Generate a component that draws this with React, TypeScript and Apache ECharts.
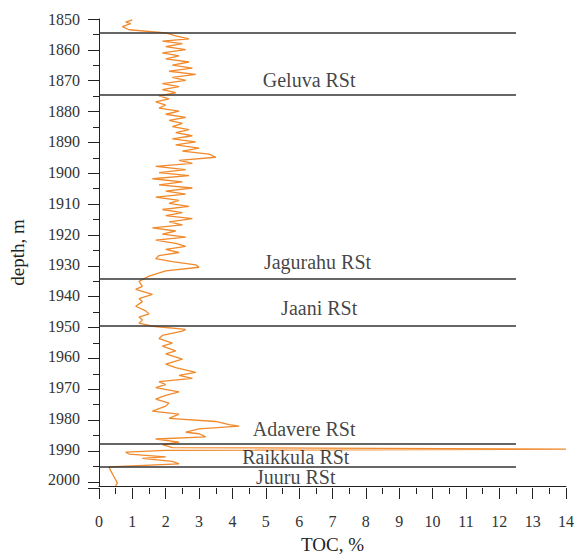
import React, { useEffect, useRef } from "react";
import * as echarts from "echarts";

const depths: number[] = [
  1850.3, 1851.0, 1851.5, 1852.5, 1853.5, 1854.5, 1855.5, 1856.5, 1857.2, 1858.0,
  1859.0, 1860.0, 1861.0, 1862.0, 1863.0, 1864.0, 1865.0, 1866.0, 1867.0, 1868.0,
  1869.0, 1870.0, 1871.0, 1872.0, 1873.0, 1874.0, 1875.0, 1876.0, 1877.0, 1878.0,
  1879.0, 1880.0, 1881.0, 1882.0, 1883.0, 1884.0, 1885.0, 1886.0, 1887.0, 1888.0,
  1889.0, 1890.0, 1891.0, 1892.0, 1893.0, 1894.0, 1895.0, 1896.0, 1897.0, 1898.0,
  1899.0, 1900.0, 1901.0, 1902.0, 1903.0, 1904.0, 1905.0, 1906.0, 1907.0, 1908.0,
  1909.0, 1910.0, 1911.0, 1912.0, 1913.0, 1914.0, 1915.0, 1916.0, 1917.0, 1918.0,
  1919.0, 1920.0, 1921.0, 1922.0, 1923.0, 1924.0, 1925.0, 1926.0, 1927.0, 1928.0,
  1929.0, 1930.0, 1930.8, 1932.0, 1933.7, 1935.4, 1937.0, 1938.0, 1939.6, 1941.0,
  1942.0, 1943.5, 1945.0, 1946.0, 1947.0, 1948.0, 1949.0, 1950.0, 1951.0, 1951.6,
  1953.0, 1954.0, 1955.5, 1956.5, 1958.0, 1959.0, 1960.7, 1962.3, 1963.5, 1965.0,
  1966.0, 1967.0, 1968.0, 1969.0, 1970.0, 1971.4, 1972.5, 1973.7, 1975.0, 1976.0,
  1977.6, 1978.6, 1980.0, 1981.0, 1982.0, 1982.5, 1983.4, 1984.5, 1985.0, 1986.0,
  1986.7, 1987.7, 1988.5, 1989.5, 1990.0, 1990.4, 1991.0, 1991.6, 1992.5, 1993.0,
  1994.0, 1994.8, 1995.8, 1997.0, 1999.0, 2001.0, 2002.0,
];
const toc: number[] = [
  1.0, 0.8, 0.95, 0.7, 0.9, 2.0, 2.3, 2.7, 1.9, 2.5,
  2.0, 2.6, 1.9, 2.4, 2.0, 2.7, 2.2, 2.8, 2.1, 2.9,
  2.2, 2.6, 1.9, 2.4, 1.9, 2.3, 1.8, 2.1, 1.7, 2.0,
  1.8, 2.4, 2.0, 2.6, 2.1, 2.5, 2.2, 2.7, 2.3, 2.8,
  2.2, 2.9, 2.3, 3.0, 2.5, 3.3, 3.5, 2.4, 2.8, 1.7,
  2.6, 1.8, 2.7, 1.6, 2.5, 1.8, 2.8, 2.0, 2.6, 1.7,
  2.4, 2.1, 2.7, 1.9, 2.5, 2.0, 2.8, 2.1, 2.5, 1.6,
  2.3, 1.9, 2.6, 1.7, 2.3, 2.6, 2.0, 2.4, 1.8, 1.7,
  2.2, 2.9, 3.0, 2.0, 1.5, 1.2, 1.3, 1.1, 1.6, 1.2,
  1.3, 1.1, 1.4, 1.5, 1.2, 1.3, 1.2, 1.6, 2.6, 2.5,
  1.9, 1.8, 2.2, 1.9, 2.3, 2.0, 2.5, 2.0, 2.3, 2.9,
  2.4, 2.8, 1.8, 2.0, 1.7, 2.4, 2.0, 1.7, 2.1, 2.0,
  1.6, 2.4, 2.1, 3.5, 3.9, 4.2, 3.0, 2.6, 3.0, 3.2,
  1.7, 2.4, 1.9, 2.2, 14.0, 2.0, 0.8, 0.9, 2.0, 1.3,
  2.2, 2.4, 0.3, 0.35, 0.45, 0.55, 0.5,
];

// Regional stage boundaries (depth, m)
const boundaries: number[] = [1854.5, 1874.7, 1934.7, 1950.0, 1988.3, 1995.8];
const boundaryEndToc = 12.5;

// Regional stage names with label anchor (TOC, depth)
const stageNames: string[] = ["Geluva RSt", "Jagurahu RSt", "Jaani RSt", "Adavere RSt", "Raikkula RSt", "Juuru RSt"];
const stageLabelX: number[] = [6.3, 6.55, 6.6, 6.15, 5.9, 5.9];
const stageLabelDepth: number[] = [1869.8, 1929.2, 1944.2, 1983.4, 1992.5, 1999.0];

const SERIF = "Liberation Serif";
const AXIS = "#222";
const TICK = "#222";

const X_MIN = 0, X_MAX = 14;
const Y_MIN = 1850, Y_MAX = 2002;

export default function App() {
  const ref = useRef<HTMLDivElement>(null);
  useEffect(() => {
    if (!ref.current) return;
    const chart = echarts.init(ref.current, undefined, { renderer: "svg" });
    const lineData = depths.map((d, i) => [toc[i], d]);

    // Tick marks are drawn as split lines of thin helper grids outside the plot.
    const tickAxisX = (gridIndex: number, interval: number) => ({
      gridIndex, type: "value", min: X_MIN, max: X_MAX, interval,
      axisLine: { show: false }, axisTick: { show: false }, axisLabel: { show: false },
      splitLine: { show: true, lineStyle: { color: TICK, width: 1 } },
    });
    const tickAxisY = (gridIndex: number, interval: number) => ({
      gridIndex, type: "value", inverse: true, min: Y_MIN, max: Y_MAX, interval,
      axisLine: { show: false }, axisTick: { show: false }, axisLabel: { show: false },
      splitLine: { show: true, lineStyle: { color: TICK, width: 1 } },
    });
    const blankAxis = (gridIndex: number, isY: boolean) => ({
      gridIndex, type: "value", min: 0, max: 1, inverse: isY,
      axisLine: { show: false }, axisTick: { show: false }, axisLabel: { show: false },
      splitLine: { show: false },
    });

    chart.setOption({
      animation: false,
      backgroundColor: "#ffffff",
      grid: [
        { left: 99, right: 13, top: 19, bottom: 71 },
        { left: 88, width: 11, top: 19, bottom: 71 },
        { left: 93, width: 6, top: 19, bottom: 71 },
        { left: 99, right: 13, top: 488, height: 11 },
        { left: 99, right: 13, top: 488, height: 6 },
      ],
      xAxis: [
        {
          gridIndex: 0,
          type: "value",
          min: X_MIN,
          max: X_MAX,
          interval: 1,
          name: "TOC, %",
          nameLocation: "middle",
          nameGap: 49,
          nameTextStyle: { fontFamily: SERIF, fontSize: 19, color: AXIS },
          axisLine: { show: true, lineStyle: { color: AXIS, width: 1 } },
          axisTick: { show: false },
          axisLabel: { show: true, fontFamily: SERIF, fontSize: 16, color: "#333", margin: 27 },
          splitLine: { show: false },
        },
        blankAxis(1, false),
        blankAxis(2, false),
        tickAxisX(3, 1),
        tickAxisX(4, 0.5),
      ],
      yAxis: [
        {
          gridIndex: 0,
          type: "value",
          inverse: true,
          min: Y_MIN,
          max: Y_MAX,
          interval: 10,
          name: "depth, m",
          nameLocation: "middle",
          nameGap: 72,
          nameRotate: 90,
          nameTextStyle: { fontFamily: SERIF, fontSize: 19, color: AXIS },
          axisLine: { show: true, lineStyle: { color: AXIS, width: 1 } },
          axisTick: { show: false },
          axisLabel: {
            show: true,
            fontFamily: SERIF,
            fontSize: 16,
            color: "#333",
            margin: 19,
            formatter: (v: number) => (v % 10 === 0 ? String(v) : ""),
          },
          splitLine: { show: false },
        },
        tickAxisY(1, 10),
        tickAxisY(2, 5),
        blankAxis(3, true),
        blankAxis(4, true),
      ],
      series: [
        {
          type: "line",
          xAxisIndex: 0,
          yAxisIndex: 0,
          data: lineData,
          showSymbol: false,
          symbol: "none",
          lineStyle: { color: "#F08A2C", width: 1.3 },
          z: 3,
          markLine: {
            silent: true,
            symbol: ["none", "none"],
            label: { show: false },
            lineStyle: { color: "#333", width: 1.5, type: "solid" },
            data: boundaries.map((d) => [
              { coord: [0, d] },
              { coord: [boundaryEndToc, d] },
            ]),
          },
        },
        {
          type: "scatter",
          xAxisIndex: 0,
          yAxisIndex: 0,
          symbolSize: 0,
          data: stageNames.map((n, i) => ({ value: [stageLabelX[i], stageLabelDepth[i]], name: n })),
          label: {
            show: true,
            position: "inside",
            formatter: (p: any) => p.name,
            fontFamily: SERIF,
            fontSize: 20,
            color: "#111",
          },
          z: 4,
        },
      ],
    });
    return () => chart.dispose();
  }, []);
  return <div ref={ref} style={{ width: 579, height: 559, position: "absolute", left: 0, top: 0 }} />;
}
